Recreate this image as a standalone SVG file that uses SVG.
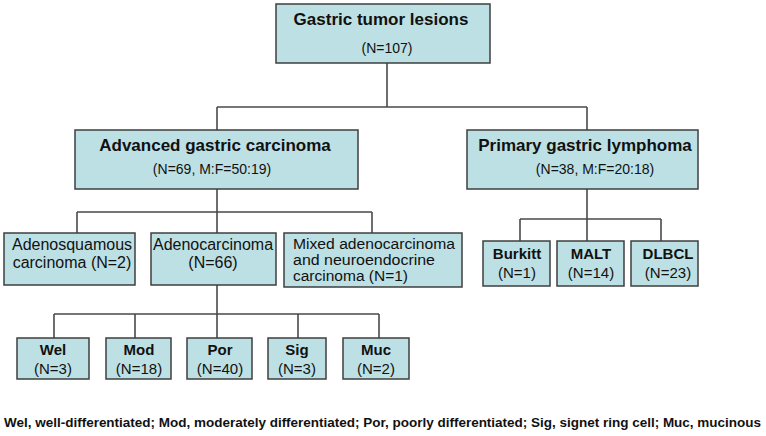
<svg xmlns="http://www.w3.org/2000/svg" width="766" height="436" viewBox="0 0 766 436">
<style>
.box{fill:#bde0e4;stroke:#3f3f3f;stroke-width:1.5}
.ln{fill:none;stroke:#4a4a4a;stroke-width:1.6}
text{font-family:"Liberation Sans",Arial,sans-serif;fill:#111;text-anchor:middle}
.t{font-weight:bold;font-size:17px}
.s{font-size:14px}
.m{font-size:16px}
.mx{font-size:14px;text-anchor:start}
.b{font-weight:bold;font-size:15px}
.r{font-size:15px}
.f{font-family:"Liberation Sans Narrow","Liberation Sans",Arial,sans-serif;font-weight:bold;font-size:13px;text-anchor:start}
</style>
<rect width="766" height="436" fill="#fff"/>
<g id="connectors">
<path class="ln" d="M387 63V107M217 107H587M217 107V130M587 107V130"/>
<path class="ln" d="M217 189V233M77 212H372M77 212V233M372 212V233"/>
<path class="ln" d="M587 189V241M520 219H661M520 219V241M661 219V241"/>
<path class="ln" d="M217 285V338M54 314H379M54 314V338M135 314V338M298 314V338M379 314V338"/>
</g>
<g id="root"><rect class="box" x="276" y="4" width="214" height="59"/><text class="t" x="381" y="25">Gastric tumor lesions</text><text class="s" x="387" y="53">(N=107)</text></g>
<g id="advanced"><rect class="box" x="75" y="130" width="283" height="59"/><text class="t" x="215" y="151">Advanced gastric carcinoma</text><text class="s" x="212" y="174">(N=69, M:F=50:19)</text></g>
<g id="lymphoma"><rect class="box" x="467" y="130" width="231" height="59"/><text class="t" x="585" y="151">Primary gastric lymphoma</text><text class="s" x="595" y="174">(N=38, M:F=20:18)</text></g>
<g id="adenosquamous"><rect class="box" x="4" y="233" width="131" height="52"/><text class="m" x="72" y="250">Adenosquamous</text><text class="m" x="72" y="268">carcinoma (N=2)</text></g>
<g id="adenocarcinoma"><rect class="box" x="151" y="233" width="125" height="52"/><text class="m" x="213" y="250">Adenocarcinoma</text><text class="m" x="213" y="268">(N=66)</text></g>
<g id="mixed"><rect class="box" x="284" y="233" width="178" height="54"/><text class="mx" x="293" y="249" textLength="162" lengthAdjust="spacingAndGlyphs">Mixed adenocarcinoma</text><text class="mx" x="293" y="265" textLength="142" lengthAdjust="spacingAndGlyphs">and neuroendocrine</text><text class="mx" x="293" y="281" textLength="115" lengthAdjust="spacingAndGlyphs">carcinoma (N=1)</text></g>
<g id="burkitt"><rect class="box" x="483" y="241" width="67" height="45"/><text class="b" x="517" y="259">Burkitt</text><text class="r" x="517" y="278">(N=1)</text></g>
<g id="malt"><rect class="box" x="557" y="241" width="67" height="45"/><text class="b" x="591" y="259">MALT</text><text class="r" x="591" y="278">(N=14)</text></g>
<g id="dlbcl"><rect class="box" x="631" y="241" width="67" height="45"/><text class="b" x="668" y="259">DLBCL</text><text class="r" x="668" y="278">(N=23)</text></g>
<g id="wel"><rect class="box" x="17" y="338" width="72" height="41"/><text class="b" x="53" y="355">Wel</text><text class="r" x="53" y="374">(N=3)</text></g>
<g id="mod"><rect class="box" x="106" y="338" width="65" height="41"/><text class="b" x="139" y="355">Mod</text><text class="r" x="139" y="374">(N=18)</text></g>
<g id="por"><rect class="box" x="187" y="338" width="65" height="41"/><text class="b" x="220" y="355">Por</text><text class="r" x="220" y="374">(N=40)</text></g>
<g id="sig"><rect class="box" x="268" y="338" width="58" height="41"/><text class="b" x="297" y="355">Sig</text><text class="r" x="297" y="374">(N=3)</text></g>
<g id="muc"><rect class="box" x="343" y="338" width="66" height="41"/><text class="b" x="376" y="355">Muc</text><text class="r" x="376" y="374">(N=2)</text></g>
<text class="f" x="4" y="427" textLength="757" lengthAdjust="spacingAndGlyphs">Wel, well-differentiated; Mod, moderately differentiated; Por, poorly differentiated; Sig, signet ring cell; Muc, mucinous</text>
</svg>
